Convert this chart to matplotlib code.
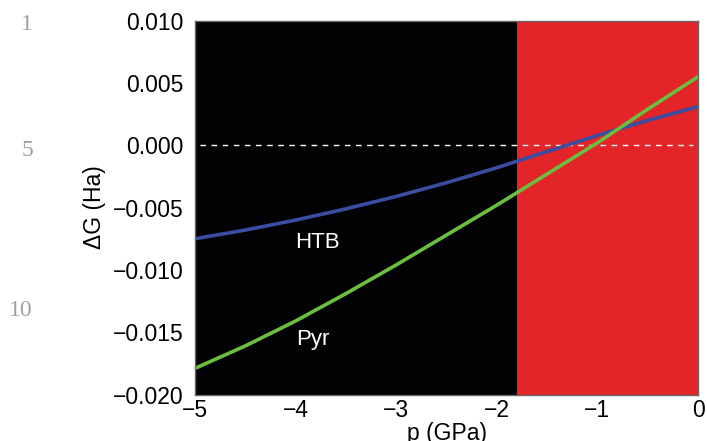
import matplotlib as mpl
mpl.use("Agg")
import matplotlib.pyplot as plt

plt.rcParams['font.family'] = ['Liberation Sans', 'DejaVu Sans']

# free energy difference vs pressure
pressure = [-5.0, -4.5, -4.0, -3.5, -3.0, -2.5, -2.0, -1.5, -1.0, -0.5, 0.0]
dg_htb = [-0.0075, -0.0068, -0.0060, -0.0051, -0.0041, -0.0030, -0.0018, -0.0005, 0.0008, 0.0020, 0.0031]
dg_pyr = [-0.0179, -0.0161, -0.0141, -0.0119, -0.0096, -0.0072, -0.0048, -0.0023, 0.0002, 0.0029, 0.0055]
p_split = -1.8
x_ticks = [-5, -4, -3, -2, -1, 0]
y_ticks = [-0.020, -0.015, -0.010, -0.005, 0.000, 0.005, 0.010]
line_numbers = ['1', '5', '10']

fig = plt.figure(figsize=(7.07, 4.41), dpi=100)
ax = fig.add_axes([0.2758, 0.1054, 0.7115, 0.8476])

ax.axvspan(-5, p_split, color='#020204', lw=0, zorder=0)
ax.axvspan(p_split, 0, color='#e32428', lw=0, zorder=0)
ax.axhline(0, xmin=0.01, xmax=0.99, color='white', lw=1, ls=(0, (4, 4)), zorder=1)

ax.plot(pressure, dg_htb, color='#3a4da0', lw=2.6, zorder=2)
ax.plot(pressure, dg_pyr, color='#6bbf3e', lw=2.6, zorder=2)

ax.text(-3.78, -0.0078, 'HTB', color='white', fontsize=16, ha='center', va='center')
ax.text(-3.83, -0.0156, 'Pyr', color='white', fontsize=16, ha='center', va='center')

ax.set_xlim(-5, 0)
ax.set_ylim(-0.020, 0.010)
ax.set_xticks(x_ticks)
ax.set_xticklabels(['\u2212' + str(-t) if t < 0 else str(t) for t in x_ticks])
ax.set_yticks(y_ticks)
ax.set_yticklabels([('\u2212%.3f' % -t) if t < 0 else '%.3f' % t for t in y_ticks])
ax.tick_params(length=0, labelsize=16.5)
ax.tick_params(axis='y', pad=8)
ax.tick_params(axis='x', pad=3)
for s in ax.spines.values():
    s.set_color('#666666')
    s.set_linewidth(1)

ax.set_xlabel('p (GPa)', fontsize=16.5, labelpad=0)
ax.set_ylabel('\u0394G (Ha)', fontsize=16.5, labelpad=5)

# manuscript line numbers in the margin
for txt, ypx in zip(line_numbers, [25, 151, 310]):
    fig.text(33 / 707, 1 - ypx / 441, txt, family='Liberation Serif', fontsize=17,
             color='#a0a0a0', ha='right', va='center')

fig.savefig('out.png', dpi=100)
